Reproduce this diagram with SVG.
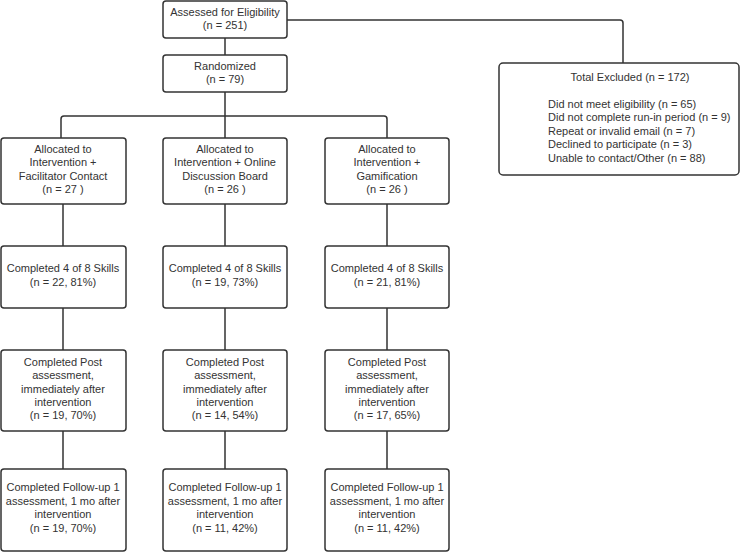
<svg xmlns="http://www.w3.org/2000/svg" width="750" height="553" viewBox="0 0 750 553">
<style>
.box{fill:#fff;stroke:#333;stroke-width:1.5}
.ln{fill:none;stroke:#333;stroke-width:1.5}
text{font-family:"Liberation Sans",Arial,sans-serif;font-size:11px;fill:#333;text-anchor:middle}
.l{text-anchor:start}
</style>
<rect width="750" height="553" fill="#fff"/>
<g id="connectors">
<path class="ln" d="M225 38V55M225 92V116M61 138V119Q61 116 64 116H384Q387 116 387 119V138M225 116V138"/>
<path class="ln" d="M287 20H620Q623 20 623 23V63"/>
<path class="ln" d="M63 204V246M225 204V246M387 204V246M63 308V350M225 308V350M387 308V350M63 431V469M225 431V469M387 431V469"/>
</g>
<g id="assessed"><rect class="box" x="163" y="1" width="124" height="37" rx="3"/><text x="225" y="16">Assessed for Eligibility</text><text x="225" y="29">(n = 251)</text></g>
<g id="randomized"><rect class="box" x="163" y="55" width="124" height="37" rx="3"/><text x="225" y="70">Randomized</text><text x="225" y="83">(n = 79)</text></g>
<g id="excluded"><rect class="box" x="499" y="63" width="240" height="112" rx="4"/><text x="630" y="81">Total Excluded (n = 172)</text>
<text class="l" x="548" y="107.5">Did not meet eligibility (n = 65)</text>
<text class="l" x="548" y="121">Did not complete run-in period (n = 9)</text>
<text class="l" x="548" y="134.5">Repeat or invalid email (n = 7)</text>
<text class="l" x="548" y="148">Declined to participate (n = 3)</text>
<text class="l" x="548" y="161.5">Unable to contact/Other (n = 88)</text></g>
<g id="alloc1"><rect class="box" x="1" y="138" width="125" height="66" rx="3"/><text x="63" y="153">Allocated to</text><text x="63" y="166">Intervention +</text><text x="63" y="180">Facilitator Contact</text><text x="63" y="193">(n = 27 )</text></g>
<g id="alloc2"><rect class="box" x="163" y="138" width="124" height="66" rx="3"/><text x="225" y="153">Allocated to</text><text x="225" y="166">Intervention + Online</text><text x="225" y="180">Discussion Board</text><text x="225" y="193">(n = 26 )</text></g>
<g id="alloc3"><rect class="box" x="325" y="138" width="124" height="66" rx="3"/><text x="387" y="153">Allocated to</text><text x="387" y="166">Intervention +</text><text x="387" y="180">Gamification</text><text x="387" y="193">(n = 26 )</text></g>
<g id="skills1"><rect class="box" x="1" y="246" width="125" height="62" rx="3"/><text x="63" y="272">Completed 4 of 8 Skills</text><text x="63" y="286">(n = 22, 81%)</text></g>
<g id="skills2"><rect class="box" x="163" y="246" width="124" height="62" rx="3"/><text x="225" y="272">Completed 4 of 8 Skills</text><text x="225" y="286">(n = 19, 73%)</text></g>
<g id="skills3"><rect class="box" x="325" y="246" width="124" height="62" rx="3"/><text x="387" y="272">Completed 4 of 8 Skills</text><text x="387" y="286">(n = 21, 81%)</text></g>
<g id="post1"><rect class="box" x="1" y="350" width="125" height="81" rx="3"/><text x="63" y="366">Completed Post</text><text x="63" y="379">assessment,</text><text x="63" y="393">immediately after</text><text x="63" y="406">intervention</text><text x="63" y="419">(n = 19, 70%)</text></g>
<g id="post2"><rect class="box" x="163" y="350" width="124" height="81" rx="3"/><text x="225" y="366">Completed Post</text><text x="225" y="379">assessment,</text><text x="225" y="393">immediately after</text><text x="225" y="406">intervention</text><text x="225" y="419">(n = 14, 54%)</text></g>
<g id="post3"><rect class="box" x="325" y="350" width="124" height="81" rx="3"/><text x="387" y="366">Completed Post</text><text x="387" y="379">assessment,</text><text x="387" y="393">immediately after</text><text x="387" y="406">intervention</text><text x="387" y="419">(n = 17, 65%)</text></g>
<g id="follow1"><rect class="box" x="1" y="469" width="125" height="82" rx="3"/><text x="63" y="491">Completed Follow-up 1</text><text x="63" y="505">assessment, 1 mo after</text><text x="63" y="518">intervention</text><text x="63" y="532">(n = 19, 70%)</text></g>
<g id="follow2"><rect class="box" x="163" y="469" width="124" height="82" rx="3"/><text x="225" y="491">Completed Follow-up 1</text><text x="225" y="505">assessment, 1 mo after</text><text x="225" y="518">intervention</text><text x="225" y="532">(n = 11, 42%)</text></g>
<g id="follow3"><rect class="box" x="325" y="469" width="124" height="82" rx="3"/><text x="387" y="491">Completed Follow-up 1</text><text x="387" y="505">assessment, 1 mo after</text><text x="387" y="518">intervention</text><text x="387" y="532">(n = 11, 42%)</text></g>
</svg>
